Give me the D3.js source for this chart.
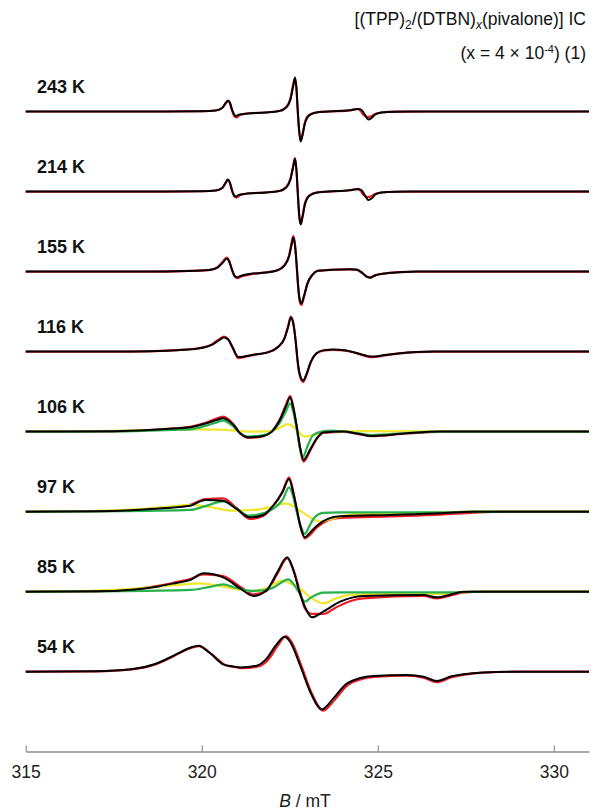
<!DOCTYPE html>
<html>
<head>
<meta charset="utf-8">
<script src="https://cdn.jsdelivr.net/npm/d3@7"></script>
<style>
  body { margin: 0; background: #fff; }
  svg { display: block; font-family: "Liberation Sans", Arial, sans-serif; }
</style>
</head>
<body>
<div id="chart"></div>
<script>
// temperatures, top to bottom
var temps = ["243 K", "214 K", "155 K", "116 K", "106 K", "97 K", "85 K", "54 K"];
var xTicks = [315, 320, 325, 330];

// [B (mT), signal] ; black = experiment, red = simulation
var exp243 = [[315,0],[319,0],[320,0.3],[320.4,1],[320.58,3.5],[320.68,8.5],[320.75,11],[320.8,9],[320.86,2],[320.92,-3],[320.97,-4.5],[321.05,-3.2],[321.3,-2],[321.8,-1],[322.2,0.5],[322.4,4],[322.52,12],[322.6,26],[322.65,34],[322.69,24],[322.73,0],[322.77,-20],[322.81,-30],[322.86,-24],[322.93,-12],[323.05,-4],[323.25,-1],[323.6,0],[324.2,1.2],[324.45,2.5],[324.54,1.5],[324.63,-3],[324.74,-8],[324.82,-6.5],[324.93,-3],[325.1,-1],[325.5,-0.2],[326.5,0],[331,0]];
var sim243 = [[315,0],[319,0],[320,0.3],[320.4,1],[320.58,3.5],[320.68,8],[320.75,10.5],[320.8,8],[320.87,0],[320.93,-5],[320.99,-6],[321.08,-3.5],[321.3,-2],[321.8,-1],[322.2,0.5],[322.4,4.5],[322.52,13],[322.6,27],[322.65,33],[322.69,22],[322.73,-2],[322.77,-21],[322.81,-29],[322.86,-23],[322.93,-11],[323.05,-3.5],[323.25,-1],[323.6,0],[324.2,1.2],[324.42,2.5],[324.5,1],[324.6,-3.5],[324.7,-5.5],[324.8,-5],[324.92,-2.5],[325.1,-1],[325.5,-0.2],[326.5,0],[331,0]];

var exp214 = [[315,0],[319,0],[320,0.3],[320.4,1],[320.58,3.5],[320.68,9],[320.74,12],[320.8,9],[320.86,1],[320.92,-4],[320.97,-5],[321.05,-3.5],[321.3,-2],[321.8,-1],[322.2,0.5],[322.4,4],[322.52,12],[322.6,25],[322.65,32.7],[322.69,22],[322.73,-2],[322.77,-24],[322.81,-33],[322.86,-26],[322.93,-13],[323.05,-4.5],[323.25,-1.2],[323.6,0],[324.2,1.3],[324.45,2.6],[324.54,1.3],[324.63,-3.5],[324.74,-8.5],[324.82,-7],[324.93,-3],[325.1,-1],[325.5,-0.2],[326.5,0],[331,0]];
var sim214 = [[315,0],[319,0],[320,0.3],[320.4,1],[320.58,3.5],[320.68,8.5],[320.74,11.5],[320.8,8.5],[320.87,0],[320.93,-5],[320.99,-6],[321.08,-3.8],[321.3,-2],[321.8,-1],[322.2,0.5],[322.4,4.5],[322.52,13],[322.6,26],[322.65,33.5],[322.69,21],[322.73,-3],[322.77,-25],[322.81,-32],[322.86,-25],[322.93,-12],[323.05,-4],[323.25,-1],[323.6,0],[324.2,1.3],[324.42,2.4],[324.5,1],[324.6,-3.5],[324.7,-5.5],[324.8,-5],[324.92,-2.5],[325.1,-1],[325.5,-0.2],[326.5,0],[331,0]];

var exp155 = [[315,0],[318.5,0],[319.5,0.5],[320.2,1.5],[320.45,4],[320.6,9],[320.71,13],[320.78,10],[320.86,2],[320.93,-4],[321,-5.7],[321.1,-4.5],[321.4,-2.3],[321.8,-1],[322.13,1],[322.35,6],[322.48,15],[322.56,28],[322.6,34],[322.65,26],[322.7,5],[322.74,-15],[322.79,-29],[322.83,-32],[322.9,-25],[323,-12],[323.15,-3],[323.3,0.8],[323.7,1.8],[324.2,2.3],[324.4,2],[324.55,-1],[324.68,-5],[324.78,-6.3],[324.92,-4],[325.25,-1.7],[325.7,-0.5],[326.1,0],[331,0]];
var sim155 = [[315,0],[318.5,0],[319.5,0.5],[320.2,1.5],[320.45,4.5],[320.6,10],[320.71,14],[320.78,10.5],[320.86,1.5],[320.94,-5],[321.01,-6.5],[321.12,-5],[321.4,-2.5],[321.8,-1],[322.13,1],[322.35,6.5],[322.48,16],[322.56,30],[322.6,35.5],[322.65,27],[322.7,4],[322.74,-16],[322.79,-31],[322.83,-33.5],[322.9,-26],[323,-12.5],[323.15,-3],[323.3,0.8],[323.7,1.8],[324.2,2.2],[324.4,1.7],[324.55,-1.3],[324.68,-4.8],[324.78,-5.8],[324.92,-3.8],[325.25,-1.7],[325.7,-0.5],[326.1,0],[331,0]];

var exp116 = [[315,0],[318,0],[319,0.8],[319.5,1.8],[319.95,3.3],[320.3,7],[320.5,11.5],[320.63,14],[320.75,12],[320.88,4],[321.04,-5.5],[321.2,-5],[321.5,-3],[321.9,-0.5],[322.15,4],[322.35,13],[322.45,24],[322.53,34],[322.6,28],[322.67,10],[322.72,-8],[322.78,-22],[322.88,-29],[322.98,-22],[323.1,-10],[323.25,-2],[323.45,1.2],[323.73,2],[324.1,1.2],[324.45,-2],[324.84,-5],[325.2,-3.5],[325.63,-1.7],[326.1,-0.5],[326.6,0],[331,0]];
var sim116 = [[315,0],[318,0],[319,0.9],[319.5,2],[319.95,3.6],[320.3,7.5],[320.5,12.5],[320.63,15],[320.75,12.5],[320.88,3.5],[321.04,-6.5],[321.2,-5.5],[321.5,-3.2],[321.9,-0.5],[322.15,4.2],[322.35,13.5],[322.45,25],[322.53,35],[322.6,29],[322.67,10],[322.72,-9],[322.78,-23.5],[322.88,-30.5],[322.98,-23],[323.1,-10.5],[323.25,-2.2],[323.45,1],[323.73,1.8],[324.1,1],[324.45,-2.3],[324.84,-5.5],[325.2,-3.8],[325.63,-1.8],[326.1,-0.6],[326.6,0],[331,0]];

// 106 K .. 85 K also show the two fitted components (green, yellow)
var exp106 = [[315,0],[317.5,0.3],[318.5,1.5],[319.2,3],[319.67,4.4],[320.13,8.3],[320.4,11.5],[320.61,13.4],[320.9,6.7],[321.09,-1.7],[321.32,-5.7],[321.75,-4.3],[321.99,0],[322.22,11.7],[322.4,26],[322.51,34.3],[322.6,24],[322.7,5],[322.79,-15],[322.89,-28.3],[323.08,-18],[323.27,-6.7],[323.45,-1],[324.02,0],[324.45,-2.2],[324.83,-4.3],[325.82,-1.7],[326.77,0],[331,0]];
var sim106 = [[315,0],[317.5,0.3],[318.5,1.6],[319.2,3.3],[319.67,4.8],[320.13,9],[320.4,12.8],[320.61,15],[320.9,7.5],[321.09,-1.5],[321.32,-6.3],[321.75,-4.6],[321.99,0],[322.22,12.5],[322.4,27.5],[322.51,35.5],[322.6,25],[322.7,4],[322.79,-17],[322.89,-30],[323.08,-19],[323.27,-7],[323.45,-1.2],[324.02,-0.3],[324.45,-2.5],[324.83,-4.6],[325.82,-1.9],[326.77,-0.2],[328,0],[331,0]];
var green106 = [[315,0],[317.5,0.2],[318.5,1],[319.2,1.8],[319.67,2.3],[320.13,6],[320.4,9],[320.61,11],[320.9,5],[321.09,-1.5],[321.32,-5],[321.75,-3.5],[321.99,0],[322.22,9],[322.4,21],[322.51,28.3],[322.6,20],[322.7,2],[322.79,-16],[322.87,-25.7],[323,-15],[323.17,-3.3],[323.45,0.3],[323.65,1],[324.02,0.2],[324.45,-1.8],[324.83,-3.5],[325.82,-1.4],[326.77,0],[331,0]];
var yellow106 = [[315,0],[317,0.4],[318.5,1.5],[319.67,2.3],[320.5,2],[321,0.8],[321.3,0],[321.8,0.3],[322.1,2],[322.3,5.5],[322.45,7.4],[322.6,5],[322.75,0],[322.85,-3.5],[322.94,-5],[323.1,-4],[323.35,-1.5],[323.65,0],[324.5,0.4],[326,0.3],[327,0],[331,0]];

var exp97 = [[315,0],[317,0.4],[318,1.5],[318.9,3.5],[319.67,6],[320.1,11.7],[320.61,11],[320.99,2.7],[321.37,-5.7],[321.75,-3.3],[322.03,6],[322.3,20],[322.48,32.7],[322.6,19],[322.7,2.7],[322.8,-14],[322.93,-25.7],[323.05,-22],[323.27,-14],[323.6,-7],[323.93,-4.7],[325.35,-3.3],[326.77,-1.7],[327.72,0],[331,0]];
var sim97 = [[315,0],[317,0.4],[318,1.6],[318.9,4],[319.67,6.8],[320.1,12.5],[320.61,13.3],[320.99,3.5],[321.37,-7.3],[321.75,-4],[322.03,5.5],[322.3,20.5],[322.48,34.3],[322.6,20],[322.7,2],[322.8,-15],[322.93,-26.7],[323.05,-24],[323.27,-15.7],[323.6,-8.5],[323.93,-6.3],[325.35,-4.7],[326.77,-3],[327.72,-1],[328.5,0],[331,0]];
var green97 = [[315,0],[317,0.2],[318.5,0.8],[319.67,1.7],[320.1,5.5],[320.61,10.3],[320.99,3],[321.32,-4],[321.75,-1.5],[322.03,2.7],[322.3,12],[322.48,24.3],[322.6,15],[322.7,-0.7],[322.8,-13],[322.93,-22.3],[323.05,-15],[323.17,-7.3],[323.45,-1.3],[323.93,-0.7],[326.77,-0.7],[327.72,0],[331,0]];
var yellow97 = [[315,0],[317,0.8],[318.2,2.5],[319.1,5],[319.67,6.7],[319.95,6],[320.4,3.5],[320.89,1],[321.56,2],[322,5],[322.37,8.3],[322.6,5.5],[322.79,1],[323.05,-5],[323.36,-10],[323.6,-8],[323.84,-5.7],[324.4,-2.3],[326.3,-1.3],[327.72,0],[331,0]];

var exp85 = [[315,0],[317,0.3],[318,2],[318.8,5.5],[319.3,9],[319.67,11.7],[320.05,18.3],[320.61,14.3],[321.09,3.3],[321.47,-4.3],[321.85,1.7],[322.13,18.3],[322.43,34.3],[322.6,21.7],[322.79,-1.7],[322.93,-15],[323.13,-25.7],[323.45,-20],[323.93,-10],[324.59,-4.3],[326.3,-3.3],[326.68,-5.7],[327.05,-3],[327.43,0],[331,0]];
var sim85 = [[315,0],[317,0.3],[318,2.2],[318.8,6],[319.3,9.8],[319.67,12.7],[320.05,17.3],[320.61,15.7],[321.09,5],[321.47,-2.7],[321.85,1],[322.13,16.7],[322.43,33.3],[322.6,22.5],[322.79,0],[322.93,-16.7],[323.13,-22.3],[323.45,-22.3],[323.8,-16],[324.1,-11],[324.59,-6.7],[326.3,-4.3],[326.68,-6.7],[327.05,-4],[327.43,-1],[328,0],[331,0]];
var green85 = [[315,0],[317,0.2],[318.5,0.8],[319.67,1.7],[320.2,4.5],[320.61,7.3],[320.95,4],[321.47,0.7],[321.99,3.3],[322.25,9],[322.45,12.3],[322.6,8],[322.75,0],[322.93,-10],[323.1,-6],[323.45,-1],[324,-0.7],[327,-0.7],[328,0],[331,0]];
var yellow85 = [[315,0],[317,1],[318.3,3.5],[319.2,6.5],[319.67,7.8],[319.95,8.3],[320.61,5],[321.37,0.7],[321.85,3.3],[322.27,11],[322.5,8.5],[322.79,3.3],[323.1,-6],[323.45,-11.7],[323.8,-7],[324.21,-3.3],[325,-2.5],[326.86,-2.3],[327.3,-0.8],[328,0],[331,0]];

var exp54 = [[315,0],[317,0.5],[318,2.5],[318.7,8],[319.2,16],[319.67,24],[319.9,26],[320.24,18.4],[320.61,7.4],[320.9,5.3],[321.09,4.3],[321.56,6],[321.85,13.3],[322.1,26],[322.35,35],[322.51,30],[322.79,6.7],[323.08,-20],[323.41,-37.6],[323.74,-26.7],[324.13,-11.6],[324.87,-4.3],[325.83,-3.3],[326.3,-5],[326.68,-9.3],[327.1,-4.5],[327.43,-2.6],[328,-0.8],[329,0],[331,0]];
var sim54 = [[315,0],[317,0.4],[318,2.3],[318.7,7.5],[319.2,15.5],[319.67,23.5],[319.93,25.5],[320.3,17],[320.68,6.5],[321,4.3],[321.15,3.5],[321.6,5.2],[321.9,12.5],[322.15,25.5],[322.4,35.5],[322.56,29],[322.85,4],[323.13,-22],[323.45,-39],[323.78,-28],[324.17,-12.8],[324.9,-5.2],[325.83,-4],[326.3,-6],[326.68,-10.5],[327.1,-5.5],[327.43,-3.2],[328,-1],[329,0],[331,0]];

var colors = { sim: "#ec1c24", yellow: "#f0e62e", green: "#27b14b", exp: "#000000" };

// build the list of traces, drawn in this order (black last, on top)
var traces = [
    { t: "243 K", kind: "sim", pts: sim243 }, { t: "243 K", kind: "exp", pts: exp243 },
    { t: "214 K", kind: "sim", pts: sim214 }, { t: "214 K", kind: "exp", pts: exp214 },
    { t: "155 K", kind: "sim", pts: sim155 }, { t: "155 K", kind: "exp", pts: exp155 },
    { t: "116 K", kind: "sim", pts: sim116 }, { t: "116 K", kind: "exp", pts: exp116 },
    { t: "106 K", kind: "sim", pts: sim106 }, { t: "106 K", kind: "yellow", pts: yellow106 },
    { t: "106 K", kind: "green", pts: green106 }, { t: "106 K", kind: "exp", pts: exp106 },
    { t: "97 K", kind: "sim", pts: sim97 }, { t: "97 K", kind: "yellow", pts: yellow97 },
    { t: "97 K", kind: "green", pts: green97 }, { t: "97 K", kind: "exp", pts: exp97 },
    { t: "85 K", kind: "sim", pts: sim85 }, { t: "85 K", kind: "yellow", pts: yellow85 },
    { t: "85 K", kind: "green", pts: green85 }, { t: "85 K", kind: "exp", pts: exp85 },
    { t: "54 K", kind: "sim", pts: sim54 }, { t: "54 K", kind: "exp", pts: exp54 }
];

var width = 594, height = 812;
var svg = d3.select("#chart").append("svg").attr("width", width).attr("height", height);

var x = d3.scaleLinear().domain([315, 331]).range([25.7, 589]);
var row = d3.scalePoint().domain(temps).range([111.5, 671.7]);
var amp = d3.scaleLinear().domain([-40, 40]).range([40, -40]);

function lineFor(t) {
    return d3.line()
        .x(function(d) { return x(d[0]); })
        .y(function(d) { return row(t) + amp(d[1]); })
        .curve(d3.curveMonotoneX);
}

svg.append("g").selectAll("path").data(traces).enter().append("path")
    .attr("d", function(d) { return lineFor(d.t)(d.pts); })
    .attr("fill", "none")
    .attr("stroke", function(d) { return colors[d.kind]; })
    .attr("stroke-width", function(d) { return d.kind == "exp" ? 2 : 2.2; })
    .attr("stroke-linejoin", "round");

// temperature labels
svg.append("g").selectAll("text").data(temps).enter().append("text")
    .attr("x", 37)
    .attr("y", function(d) { return row(d) - 19; })
    .attr("font-size", "18px")
    .attr("font-weight", "bold")
    .attr("fill", "#111")
    .text(function(d) { return d; });

// x axis, ticks pointing up
var axis = d3.axisBottom(x).tickValues(xTicks).tickSize(-6).tickSizeOuter(0).tickPadding(14)
    .tickFormat(d3.format("d"));
var ax = svg.append("g").attr("transform", "translate(0,751.5)").call(axis);
ax.select(".domain").attr("stroke", "#555").attr("stroke-width", 1.2);
ax.selectAll(".tick line").attr("stroke", "#777");
ax.selectAll(".tick text").attr("font-size", "17.5px").attr("fill", "#222")
    .attr("font-family", "'Liberation Sans', Arial, sans-serif");

var xl = svg.append("text").attr("x", 305).attr("y", 807).attr("text-anchor", "middle")
    .attr("font-size", "17.5px").attr("fill", "#222");
xl.append("tspan").attr("font-style", "italic").text("B");
xl.append("tspan").text(" / mT");

// title
var t1 = svg.append("text").attr("x", 586).attr("y", 25).attr("text-anchor", "end")
    .attr("font-size", "17.5px").attr("fill", "#111");
t1.append("tspan").text("[(TPP)");
t1.append("tspan").attr("dy", 4).attr("font-size", "12px").text("2");
t1.append("tspan").attr("dy", -4).text("/(DTBN)");
t1.append("tspan").attr("dy", 4).attr("font-size", "12px").attr("font-style", "italic").text("x");
t1.append("tspan").attr("dy", -4).text("(pivalone)] IC");

var t2 = svg.append("text").attr("x", 586).attr("y", 59).attr("text-anchor", "end")
    .attr("font-size", "17.5px").attr("fill", "#111");
t2.append("tspan").text("(x = 4 \u00d7 10");
t2.append("tspan").attr("dy", -6).attr("font-size", "11px").text("-4");
t2.append("tspan").attr("dy", 6).text(") (1)");
</script>
</body>
</html>
